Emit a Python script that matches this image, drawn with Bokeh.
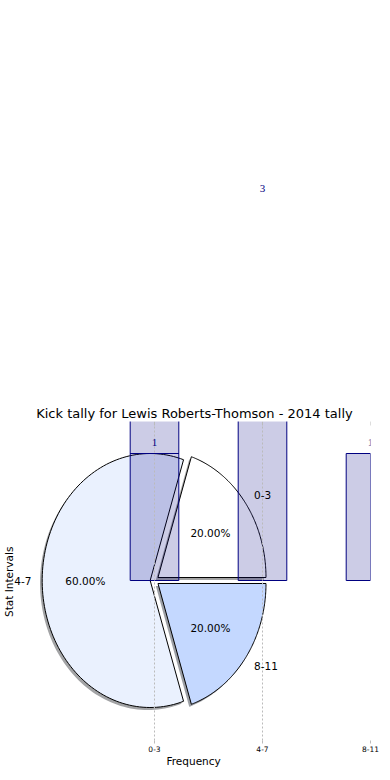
import numpy as np
from bokeh.plotting import figure
from bokeh.models import Range1d, FixedTicker, Label, LabelSet, ColumnDataSource, BoxAnnotation, Title
from bokeh.embed import file_html
from bokeh.resources import INLINE

# ---- data ----
title_text = "Kick tally for Lewis Roberts-Thomson - 2014 tally"
categories = ["0-3", "4-7", "8-11"]
frequency = [1, 3, 1]
overflow = [2, 0, 0]          # extra stacked segment seen above the first bar
pie_colors = ["#ffffff", "#eaf1fe", "#c4d8ff"]
explode = [0.04, 0.04, 0.04]
x_label = "Frequency"
y_label = "Stat Intervals"

FONT = "DejaVu Sans"
Y_AXES_TOP = 1.252   # top of the visible axes box (data units)

p = figure(frame_width=370, frame_height=740,
           x_range=Range1d(-1.4259, 2.0), y_range=Range1d(-1.2598, 4.567),
           output_backend="svg", toolbar_location=None,
           min_border_left=0, min_border_right=12, min_border_top=0, min_border_bottom=32)
p.outline_line_color = None
p.background_fill_color = "white"
p.yaxis.visible = False
p.ygrid.visible = False

ticks = list(range(len(categories)))
p.xaxis.ticker = FixedTicker(ticks=ticks)
p.xaxis.major_label_overrides = {i: c for i, c in enumerate(categories)}
p.xaxis.axis_line_color = None
p.xaxis.major_tick_line_color = "#bbbbbb"
p.xaxis.major_tick_in = 0
p.xaxis.major_tick_out = 3
p.xaxis.minor_tick_line_color = None
p.xaxis.major_label_standoff = 2
p.xaxis.major_label_text_font = FONT
p.xaxis.major_label_text_font_size = "7.5px"
p.xaxis.major_label_text_color = "black"

# x-axis title (centred under the matplotlib-style axes box, not the full frame)
p.add_layout(Title(text=x_label, align="left", offset=166, standoff=0, vertical_align="top",
                   text_font=FONT, text_font_style="normal", text_font_size="10.5px",
                   text_color="black"), "below")

p.xgrid.ticker = FixedTicker(ticks=ticks)
p.xgrid.grid_line_color = "#bbbbbb"
p.xgrid.grid_line_dash = "2 2"
p.xgrid.level = "annotation"

# ---- pie (elliptical in screen space because drawn in data units) ----
vals = np.array(frequency, dtype=float)
fracs = vals / vals.sum()
edges = np.concatenate([[0.0], np.cumsum(fracs)]) * 2 * np.pi
wx, wy, sx, sy, shadow_cols = [], [], [], [], []
for i in range(len(categories)):
    t1, t2 = edges[i], edges[i + 1]
    mid = (t1 + t2) / 2
    cx, cy = explode[i] * np.cos(mid), explode[i] * np.sin(mid)
    th = np.linspace(t1, t2, 120)
    xs = np.concatenate([[cx], cx + np.cos(th), [cx]])
    ys = np.concatenate([[cy], cy + np.sin(th), [cy]])
    wx.append(list(xs)); wy.append(list(ys))
    sx.append(list(xs - 0.02)); sy.append(list(ys - 0.02))
    h = pie_colors[i].lstrip("#")
    r, g, b = (int(h[k:k + 2], 16) for k in (0, 2, 4))
    shadow_cols.append("#%02x%02x%02x" % (int(r * 0.3), int(g * 0.3), int(b * 0.3)))

p.patches(sx, sy, fill_color=shadow_cols, fill_alpha=0.5, line_color=None)
p.patches(wx, wy, fill_color=pie_colors, line_color="black", line_width=1)

# ---- bars ----
bar_src = ColumnDataSource(dict(x=ticks, top=frequency, text=[str(v) for v in frequency]))
p.vbar(x="x", top="top", bottom=0, width=0.45, source=bar_src,
       fill_color="navy", fill_alpha=0.2, line_color="navy", line_width=1)
ov_x = [t for t, o in zip(ticks, overflow) if o]
ov_b = [f for f, o in zip(frequency, overflow) if o]
ov_t = [f + o for f, o in zip(frequency, overflow) if o]
p.vbar(x=ov_x, bottom=ov_b, top=ov_t, width=0.45,
       fill_color="navy", fill_alpha=0.2, line_color="navy", line_width=1)

# small tick marks hanging from the top of the axes box
p.ray(x=ticks, y=Y_AXES_TOP, length=4, length_units="screen", angle=-np.pi / 2,
      line_color="#bbbbbb", line_width=1)

# white mask: everything above the axes box is clipped in the reference
p.add_layout(BoxAnnotation(bottom=Y_AXES_TOP, fill_color="white", fill_alpha=1.0,
                           line_color=None, level="overlay"))

p.add_layout(LabelSet(x="x", y="top", text="text", source=bar_src, y_offset=11,
                      text_align="center", text_baseline="middle", level="overlay",
                      text_color="navy", text_font=FONT, text_font_size="11px"))

# ---- pie labels ----
for i, cat in enumerate(categories):
    mid = (edges[i] + edges[i + 1]) / 2
    c, s = np.cos(mid), np.sin(mid)
    lx, ly = (1.1 + explode[i]) * c, (1.1 + explode[i]) * s
    p.add_layout(Label(x=lx, y=ly, text=cat, text_align="left" if lx > 0 else "right",
                       text_baseline="middle", text_font=FONT, text_font_size="10.5px",
                       text_color="black", level="overlay"))
    px_, py_ = (0.6 + explode[i]) * c, (0.6 + explode[i]) * s
    p.add_layout(Label(x=px_, y=py_, text="%.2f%%" % (fracs[i] * 100), text_align="center",
                       text_baseline="middle", text_font=FONT, text_font_size="10.5px",
                       text_color="black", level="overlay"))

# ---- title and y label ----
p.add_layout(Label(x=0.37, y=1.315, text=title_text, text_align="center",
                   text_baseline="middle", text_font=FONT, text_font_size="13px",
                   text_color="black", level="overlay"))
p.add_layout(Label(x=-1.343, y=-0.01, text=y_label, angle=np.pi / 2, text_align="center",
                   text_baseline="middle", text_font=FONT, text_font_size="10.5px",
                   text_color="black", level="overlay"))

open("out.html", "w").write(file_html(p, INLINE))
